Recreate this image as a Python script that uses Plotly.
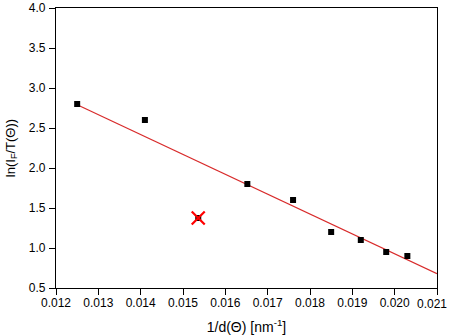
import plotly.graph_objects as go

# data
x_pts = [0.0125, 0.0141, 0.01652, 0.0176, 0.0185, 0.0192, 0.0198, 0.0203]
y_pts = [2.8, 2.6, 1.8, 1.6, 1.2, 1.1, 0.95, 0.9]
x_out = [0.01536]
y_out = [1.375]
fit_x = [0.0125, 0.021]
fit_y = [2.79, 0.68]
x_ticks = [0.012, 0.013, 0.014, 0.015, 0.016, 0.017, 0.018, 0.019, 0.020, 0.021]
x_labels = ["0.012", "0.013", "0.014", "0.015", "0.016", "0.017", "0.018", "0.019", "0.020", "0.021"]
y_ticks = [0.5, 1.0, 1.5, 2.0, 2.5, 3.0, 3.5, 4.0]
y_labels = ["0.5", "1.0", "1.5", "2.0", "2.5", "3.0", "3.5", "4.0"]

font_family = "Liberation Sans, Arial"

fig = go.Figure()
fig.add_trace(go.Scatter(x=fit_x, y=fit_y, mode="lines",
                         line=dict(color="#d82a2a", width=1.2), showlegend=False))
fig.add_trace(go.Scatter(x=x_pts, y=y_pts, mode="markers",
                         marker=dict(symbol="square", size=6, color="black"), showlegend=False))
fig.add_trace(go.Scatter(x=x_out, y=y_out, mode="markers",
                         marker=dict(symbol="square", size=6, color="black"), showlegend=False))
fig.add_trace(go.Scatter(x=x_out, y=y_out, mode="markers",
                         marker=dict(symbol="x-thin", size=13, color="red",
                                     line=dict(color="red", width=2.2)), showlegend=False))

axis_common = dict(showline=True, linecolor="black", linewidth=1.3, mirror=True,
                   ticks="outside", ticklen=6, tickwidth=1.2, tickcolor="black",
                   showgrid=False, zeroline=False,
                   automargin=False,
                   tickfont=dict(family=font_family, size=12, color="black"))

# last x tick label is drawn as an annotation so it stays inside the page
x_ticktext = x_labels[:-1] + [""]

fig.update_layout(
    width=450, height=335,
    margin=dict(l=56, r=13, t=8, b=47),
    paper_bgcolor="white", plot_bgcolor="white",
    xaxis=dict(range=[0.012, 0.0210001], tickvals=x_ticks, ticktext=x_ticktext,
               ticklabelstandoff=-3,
               title=dict(text="1/d(\u0398) [nm<sup>-1</sup>]", standoff=14,
                          font=dict(family=font_family, size=14, color="black")),
               **axis_common),
    yaxis=dict(range=[0.5, 4.0], tickvals=y_ticks, ticktext=y_labels,
               ticklabelstandoff=1,
               title=dict(text="ln(I<sub>F</sub>/T(\u0398))", standoff=10,
                          font=dict(family=font_family, size=13, color="black")),
               **axis_common),
    annotations=[dict(x=x_ticks[-1], xref="x", y=0, yref="paper",
                      text=x_labels[-1], showarrow=False,
                      xanchor="right", yanchor="top", xshift=12, yshift=-7,
                      font=dict(family=font_family, size=12, color="black"))],
)

fig.write_html("out.html")
